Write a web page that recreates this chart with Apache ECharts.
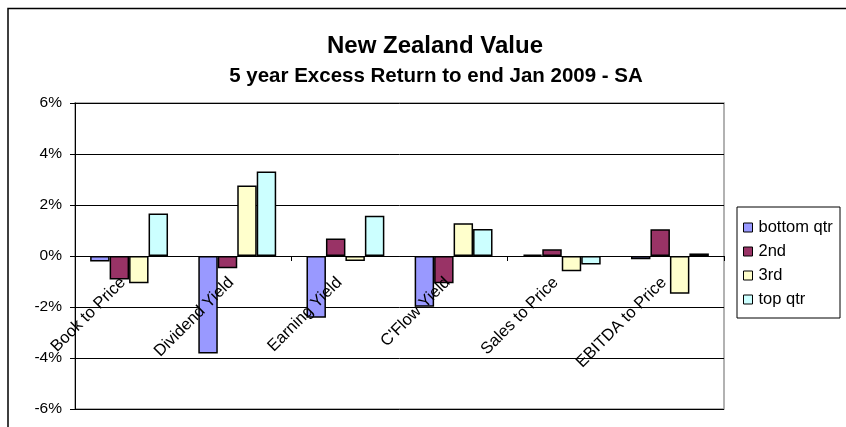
<!DOCTYPE html>
<html><head><meta charset="utf-8">
<script src="https://cdn.jsdelivr.net/npm/echarts@6/dist/echarts.min.js"></script>
<style>html,body{margin:0;padding:0;background:#fff}#c{width:846px;height:427px}</style>
</head><body><div id="c"></div>
<script>
const categories = ["Book to Price", "Dividend Yield", "Earning Yield", "C'Flow Yield", "Sales to Price", "EBITDA to Price"];
const seriesNames = ["bottom qtr", "2nd", "3rd", "top qtr"];
const bottomQtr = [-0.22, -3.82, -2.42, -1.99, 0.05, -0.13];
const second = [-0.92, -0.48, 0.69, -1.07, 0.26, 1.05];
const third = [-1.07, 2.76, -0.20, 1.28, -0.60, -1.48];
const topQtr = [1.67, 3.31, 1.58, 1.06, -0.33, 0.10];
const yTicks = [-6, -4, -2, 0, 2, 4, 6];
const colors = ["#9999FF", "#993366", "#FFFFCC", "#CCFFFF"];
const values = [bottomQtr, second, third, topQtr];
const FONT = 'Liberation Sans, Arial, sans-serif';

const chart = echarts.init(document.getElementById('c'));
chart.setOption({
  animation: false,
  textStyle: {fontFamily: FONT},
  title: [
    {text: 'New Zealand Value', left: 430, top: 29, textAlign: 'center',
     textStyle: {fontSize: 24, fontWeight: 'bold', color: '#000', fontFamily: FONT}},
    {text: '5 year Excess Return to end Jan 2009 - SA', left: 431, top: 61, textAlign: 'center',
     textStyle: {fontSize: 20.5, fontWeight: 'bold', color: '#000', fontFamily: FONT}}
  ],
  graphic: [
    {type: 'rect', shape: {x: 8, y: 8.5, width: 850, height: 430}, style: {fill: 'none', stroke: '#000', lineWidth: 1.5}, silent: true},
    {type: 'rect', shape: {x: 737, y: 207, width: 103, height: 111}, style: {fill: 'none', stroke: '#000', lineWidth: 1}, silent: true}
  ],
  legend: {
    orient: 'vertical', left: 743, top: 219, itemGap: 7,
    itemWidth: 9, itemHeight: 9, icon: 'rect', padding: 0,
    textStyle: {fontSize: 16.5, color: '#000', fontFamily: FONT, padding: [0, 0, 0, 1]},
    itemStyle: {borderColor: '#000', borderWidth: 1}
  },
  grid: {left: 75, right: 122, top: 103, bottom: 18, containLabel: false, outerBoundsMode: 'none',
         show: true, borderColor: '#999', borderWidth: 1.5},
  xAxis: [
    {
      type: 'category', data: categories, position: 'bottom', z: 20,
      axisLine: {show: false, onZero: false},
      axisTick: {show: false},
      axisLabel: {rotate: 45, fontSize: 16.5, color: '#000', margin: -123, verticalAlign: 'bottom',
                  fontFamily: FONT, hideOverlap: false, interval: 0}
    },
    {
      type: 'category', data: categories, position: 'bottom', z: 15,
      axisLine: {show: true, onZero: true, lineStyle: {color: '#000'}},
      axisTick: {show: true, lineStyle: {color: '#000'}, length: 5},
      axisLabel: {show: false}
    }
  ],
  yAxis: {
    type: 'value', min: yTicks[0], max: yTicks[yTicks.length - 1], interval: 2,
    axisLine: {show: true, lineStyle: {color: '#000'}},
    axisTick: {show: true, lineStyle: {color: '#000'}, length: 5},
    axisLabel: {formatter: v => v + '%', fontSize: 15.5, color: '#000', margin: 13, fontFamily: FONT},
    splitLine: {lineStyle: {color: '#000', width: 1}}
  },
  series: seriesNames.map((n, i) => ({
    name: n, type: 'bar', data: values[i], xAxisIndex: 0,
    barGap: '0%', barCategoryGap: '28%',
    itemStyle: {color: colors[i], borderColor: '#000', borderWidth: 1.5}
  }))
});
</script></body></html>
